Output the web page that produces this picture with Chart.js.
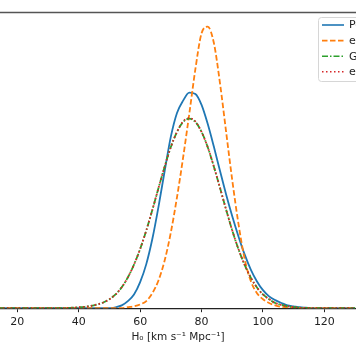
<!DOCTYPE html>
<html>
<head>
<meta charset="utf-8">
<script src="https://cdn.jsdelivr.net/npm/chart.js@4"></script>
<style>
html,body{margin:0;padding:0;background:#fff;overflow:hidden;}
#wrap{width:356px;height:364px;position:relative;}
</style>
</head>
<body>
<div id="wrap"><canvas id="c" width="356" height="364"></canvas></div>
<script>
const h0Grid = [14,16,18,20,22,24,26,28,30,32,34,36,38,40,42,44,46,48,50,52,54,56,58,60,62,64,66,68,70,72,74,76,78,80,82,84,86,88,90,92,94,96,98,100,102,104,106,108,110,112,114,116,118,120,122,124,126,128,130];
const posterior = [0,0,0,0,0,0,0,0,0,0,0,0,0,0,0,0,0,0,0,
  0.0002,0.0006,0.0015,0.0029,0.0055,0.0093,0.0147,0.0215,0.0290,0.0362,0.0412,0.0438,0.0455,0.0452,0.0429,0.0389,0.0341,0.0290,0.0240,0.0194,0.0152,0.0114,0.0082,0.0057,0.0038,0.0025,0.0017,0.0011,0.0006,0.0004,0.0002,0.0001,
  0,0,0,0,0,0,0,0];
const expected = [0,0,0,0,0,0,0,0,0,0,0,0,0,0,0,0,0,0,0,0,0,
  0.0002,0.0004,0.0008,0.0015,0.0032,0.0059,0.0101,0.0160,0.0234,0.0318,0.0410,0.0505,0.0580,0.0594,0.0560,0.0475,0.0372,0.0270,0.0179,0.0105,0.0058,0.0032,0.0019,0.0011,0.0006,0.0003,0.0002,0.0001,
  0,0,0,0,0,0,0,0,0,0];
const gaussian = [0,0,0,0,0,0,0,0,0,0,0,
  0.00003,0.0001,0.0002,0.0003,0.0005,0.0008,0.0012,0.0019,0.0029,0.0044,0.0065,0.0092,0.0125,0.0164,0.0208,0.0254,0.0299,0.0340,0.0372,0.0393,0.0400,0.0393,0.0372,0.0340,0.0299,0.0254,0.0208,0.0164,0.0125,0.0092,0.0065,0.0044,0.0029,0.0019,0.0011,0.0007,0.0004,0.0002,0.0001,0.00006,0.00003,
  0,0,0,0,0,0,0];
const expectedGaussian = [0,0,0,0,0,0,0,0,0,0,0,
  0.00003,0.0001,0.0002,0.0003,0.0005,0.0008,0.0012,0.0019,0.0029,0.0044,0.0065,0.0092,0.0125,0.0164,0.0208,0.0254,0.0299,0.0340,0.0372,0.0394,0.0401,0.0394,0.0372,0.0340,0.0299,0.0254,0.0208,0.0164,0.0125,0.0092,0.0065,0.0044,0.0029,0.0019,0.0011,0.0007,0.0004,0.0002,0.0001,0.00006,0.00003,
  0,0,0,0,0,0,0];
const seriesLabels = ["Posterior", "expected", "Gaussian", "expected Gaussian"];
const xTicks = [20,40,60,80,100,120];
const xTitle = "H\u2080 [km s\u207B\u00B9 Mpc\u207B\u00B9]";

const pts = arr => h0Grid.map((x,i)=>({x:x,y:arr[i]}));
const styles = [
  {color:'#1f77b4', dash:[]},
  {color:'#ff7f0e', dash:[5.5,2.5]},
  {color:'#2ca02c', dash:[6,2,1.5,2]},
  {color:'#d62728', dash:[1.5,2.5]}
];
const seriesData = [posterior, expected, gaussian, expectedGaussian];
const datasets = seriesData.map((d,i)=>({
  label: seriesLabels[i],
  data: pts(d),
  borderColor: styles[i].color,
  borderDash: styles[i].dash,
  borderWidth: 1.8,
  pointRadius: 0,
  fill: false,
  order: 3 - i,
  cubicInterpolationMode: 'monotone',
  borderCapStyle: 'butt'
}));

const framePlugin = {
  id: 'frame',
  afterDraw(chart){
    const ctx = chart.ctx, a = chart.chartArea;
    ctx.save();
    ctx.strokeStyle = '#555';
    ctx.lineWidth = 1.5;
    ctx.beginPath();
    ctx.moveTo(0, a.top + 0.5);
    ctx.lineTo(chart.width, a.top + 0.5);
    ctx.stroke();
    // legend
    const lx = 318, ly = 17, lw = 100, lh = 64;
    ctx.fillStyle = 'rgba(255,255,255,0.85)';
    ctx.strokeStyle = '#d6d6d6';
    ctx.lineWidth = 1;
    ctx.beginPath();
    if (ctx.roundRect) ctx.roundRect(lx+0.5, ly+0.5, lw, lh, 3); else ctx.rect(lx+0.5, ly+0.5, lw, lh);
    ctx.fill(); ctx.stroke();
    ctx.font = '11px "DejaVu Sans"';
    ctx.textBaseline = 'middle';
    chart.data.datasets.forEach((ds,i)=>{
      const y = 25 + i*15.6;
      ctx.strokeStyle = ds.borderColor;
      ctx.lineWidth = 1.6;
      ctx.setLineDash(ds.borderDash);
      ctx.beginPath();
      ctx.moveTo(322, y); ctx.lineTo(344, y);
      ctx.stroke();
      ctx.setLineDash([]);
      ctx.fillStyle = '#222';
      ctx.fillText(ds.label, 349, y + 0.5);
    });
    ctx.restore();
  }
};

new Chart(document.getElementById('c'), {
  type: 'line',
  data: { datasets },
  options: {
    responsive: false,
    animation: false,
    layout: { padding: { top: 12, left: 0, right: 0, bottom: 16 } },
    plugins: { legend: { display: false }, tooltip: { enabled: false } },
    scales: {
      x: {
        type: 'linear',
        min: 14.36, max: 130.3,
        afterBuildTicks(s){ s.ticks = xTicks.map(v=>({value:v})); },
        grid: { display: true, drawOnChartArea: false, drawTicks: true, tickLength: 4, color: '#222', lineWidth: 1 },
        border: { display: true, color: '#222', width: 1.3 },
        ticks: { color: '#222', font: { family: 'DejaVu Sans', size: 11 }, padding: 3, maxRotation: 0 },
        title: { display: true, text: xTitle, color: '#222', font: { family: 'DejaVu Sans', size: 10.5 }, padding: { top: 0, bottom: 4 } }
      },
      y: { display: false, min: 0, max: 0.0625 }
    }
  },
  plugins: [framePlugin]
});
</script>
</body>
</html>
